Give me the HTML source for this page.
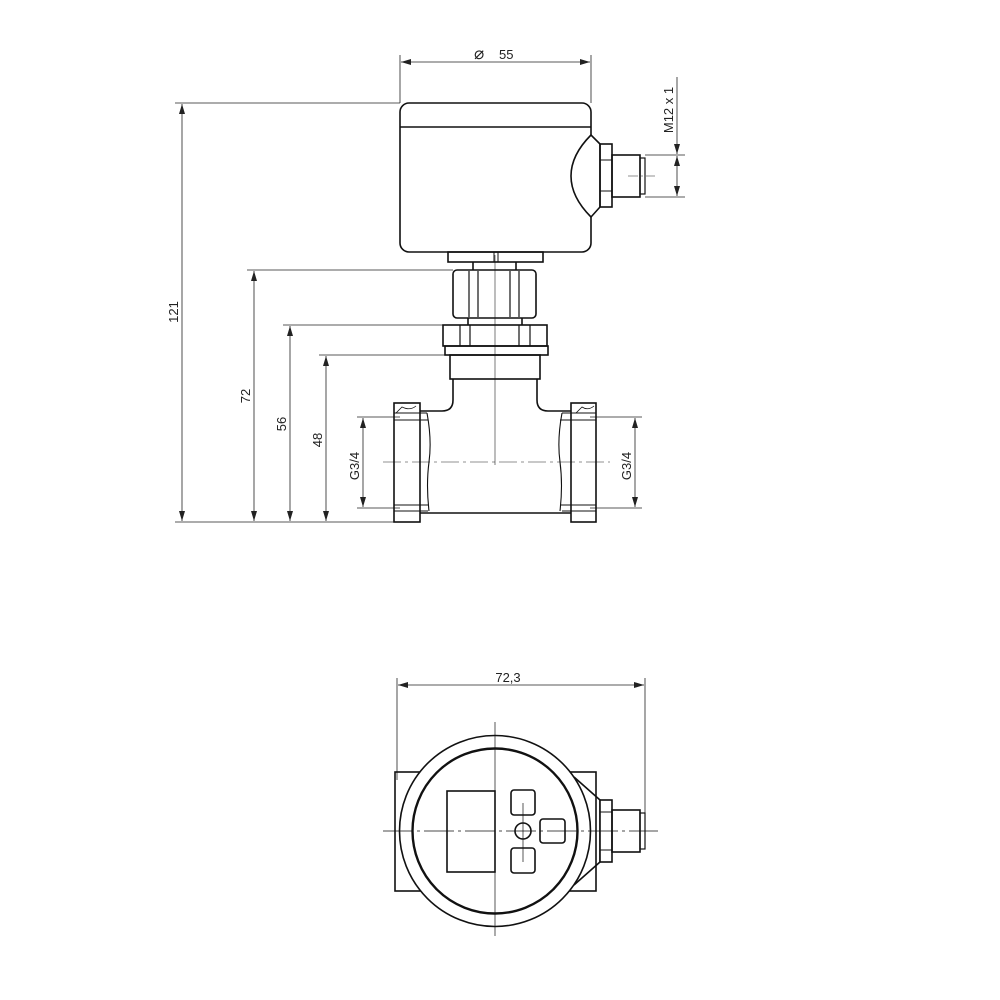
<!DOCTYPE html>
<html><head><style>body{margin:0;background:#fff}svg{display:block}text{font-family:"Liberation Sans",sans-serif;font-size:13px;fill:#222}</style></head><body>
<svg width="1000" height="1000" viewBox="0 0 1000 1000" xmlns="http://www.w3.org/2000/svg">
<defs><marker id="a" viewBox="0 0 10 6" refX="10" refY="3" markerWidth="10" markerHeight="6" orient="auto-start-reverse" markerUnits="userSpaceOnUse"><path d="M0,0L10,3L0,6z" fill="#222"/></marker></defs>
<g stroke="#222" fill="none" stroke-width="0.8">
<line x1="400" y1="55" x2="400" y2="103"/><line x1="591" y1="55" x2="591" y2="103"/>
<line x1="401" y1="62" x2="590" y2="62" marker-start="url(#a)" marker-end="url(#a)"/>
<line x1="175" y1="103" x2="400" y2="103"/><line x1="175" y1="522" x2="394" y2="522"/>
<line x1="182" y1="104" x2="182" y2="521" marker-start="url(#a)" marker-end="url(#a)"/>
<line x1="247" y1="270" x2="453" y2="270"/><line x1="254" y1="271" x2="254" y2="521" marker-start="url(#a)" marker-end="url(#a)"/>
<line x1="283" y1="325" x2="443" y2="325"/><line x1="290" y1="326" x2="290" y2="521" marker-start="url(#a)" marker-end="url(#a)"/>
<line x1="319" y1="355" x2="445" y2="355"/><line x1="326" y1="356" x2="326" y2="521" marker-start="url(#a)" marker-end="url(#a)"/>
<line x1="357" y1="417" x2="400" y2="417"/><line x1="357" y1="508" x2="400" y2="508"/>
<line x1="363" y1="418" x2="363" y2="507" marker-start="url(#a)" marker-end="url(#a)"/>
<line x1="590" y1="417" x2="642" y2="417"/><line x1="590" y1="508" x2="642" y2="508"/>
<line x1="635" y1="418" x2="635" y2="507" marker-start="url(#a)" marker-end="url(#a)"/>
<line x1="645" y1="155" x2="685" y2="155"/><line x1="645" y1="197" x2="685" y2="197"/>
<line x1="677" y1="77" x2="677" y2="154" marker-end="url(#a)"/><line x1="677" y1="156" x2="677" y2="196" marker-start="url(#a)" marker-end="url(#a)"/>
<line x1="495" y1="255" x2="495" y2="465" stroke-width="0.6"/>
<line x1="383" y1="462" x2="610" y2="462" stroke-dasharray="18,4,3,4" stroke-width="0.6"/>
<line x1="628" y1="176" x2="655" y2="176" stroke-dasharray="10,3,2,3" stroke-width="0.6"/>
</g>
<g stroke="#111" fill="none" stroke-width="1.6">
<rect x="400" y="103" width="191" height="149" rx="9"/>
<line x1="400" y1="127" x2="591" y2="127"/>
<path d="M591,135 Q571,155 571,176 Q571,197 591,217 L600,207 L600,144 Z" fill="#fff"/>
<rect x="600" y="144" width="12" height="63"/>
<line x1="600" y1="160" x2="612" y2="160" stroke-width="1"/><line x1="600" y1="191" x2="612" y2="191" stroke-width="1"/>
<rect x="612" y="155" width="28" height="42"/>
<rect x="640" y="158" width="5" height="36" stroke-width="1.2"/>
<rect x="448" y="252" width="95" height="10"/><line x1="494" y1="252" x2="494" y2="262" stroke-width="1"/><line x1="498" y1="252" x2="498" y2="262" stroke-width="1"/>
<line x1="473" y1="262" x2="473" y2="270"/><line x1="516" y1="262" x2="516" y2="270"/>
<rect x="453" y="270" width="83" height="48" rx="4"/>
<line x1="469" y1="271" x2="469" y2="317" stroke-width="1.2"/><line x1="478" y1="271" x2="478" y2="317" stroke-width="1.2"/>
<line x1="510" y1="271" x2="510" y2="317" stroke-width="1.2"/><line x1="519" y1="271" x2="519" y2="317" stroke-width="1.2"/>
<line x1="468" y1="318" x2="468" y2="325"/><line x1="522" y1="318" x2="522" y2="325"/>
<rect x="443" y="325" width="104" height="21"/>
<line x1="460" y1="325" x2="460" y2="346" stroke-width="1.2"/><line x1="470" y1="325" x2="470" y2="346" stroke-width="1.2"/>
<line x1="519" y1="325" x2="519" y2="346" stroke-width="1.2"/><line x1="530" y1="325" x2="530" y2="346" stroke-width="1.2"/>
<rect x="445" y="346" width="103" height="9"/>
<rect x="450" y="355" width="90" height="24"/>
<path d="M453,379 L453,400 Q453,411 442,411 L420,411"/>
<path d="M537,379 L537,400 Q537,411 548,411 L571,411"/>
<line x1="420" y1="513" x2="571" y2="513"/>
<rect x="394" y="403" width="26" height="119"/>
<rect x="571" y="403" width="25" height="119"/>
<g stroke-width="1.1">
<line x1="394" y1="413" x2="427" y2="413"/><line x1="394" y1="420" x2="428" y2="420"/>
<line x1="394" y1="505" x2="428" y2="505"/><line x1="394" y1="511" x2="428" y2="511"/>
<line x1="562" y1="413" x2="596" y2="413"/><line x1="560" y1="420" x2="596" y2="420"/>
<line x1="560" y1="505" x2="596" y2="505"/><line x1="562" y1="511" x2="596" y2="511"/>
<path d="M427,413 Q432,440 429,462 Q426,485 429,511"/>
<path d="M562,413 Q557,440 560,462 Q563,485 560,511"/>
<path d="M396,413 L402,407 Q410,411 416,406" stroke-width="0.8"/>
<path d="M576,413 L582,407 Q588,411 594,406" stroke-width="0.8"/>
</g>
</g>
<g stroke="#222" fill="none" stroke-width="0.8">
<line x1="397" y1="678" x2="397" y2="780"/><line x1="645" y1="678" x2="645" y2="815"/>
<line x1="398" y1="685" x2="644" y2="685" marker-start="url(#a)" marker-end="url(#a)"/>
</g>
<g stroke="#111" fill="none" stroke-width="1.6">
<rect x="395" y="772" width="201" height="119"/>
<circle cx="495" cy="831" r="95.5" fill="#fff"/>
<path d="M574,777 L600,800 L600,862 L574,885"/>
<circle cx="495" cy="831" r="82.5" stroke-width="2.4"/>
<rect x="600" y="800" width="12" height="62" fill="#fff"/>
<line x1="600" y1="812" x2="612" y2="812" stroke-width="1"/><line x1="600" y1="850" x2="612" y2="850" stroke-width="1"/>
<rect x="612" y="810" width="28" height="42"/>
<rect x="640" y="813" width="5" height="36" stroke-width="1.2"/>
<rect x="447" y="791" width="48" height="81"/>
<rect x="511" y="790" width="24" height="25" rx="3"/>
<rect x="540" y="819" width="25" height="24" rx="3"/>
<rect x="511" y="848" width="24" height="25" rx="3"/>
<circle cx="523" cy="831" r="8"/>
<line x1="383" y1="831" x2="658" y2="831" stroke-width="0.7" stroke-dasharray="30,4,3,4"/>
<line x1="495" y1="722" x2="495" y2="940" stroke-width="0.7" stroke-dasharray="100,6,2,6"/>
<line x1="523" y1="803" x2="523" y2="862" stroke-width="0.7"/>
</g>
<text x="474" y="59" style="font-size:17px">⌀</text><text x="499" y="59">55</text>
<text x="508" y="682" text-anchor="middle">72,3</text>
<text transform="translate(178,312) rotate(-90)" text-anchor="middle">121</text>
<text transform="translate(250,396) rotate(-90)" text-anchor="middle">72</text>
<text transform="translate(286,424) rotate(-90)" text-anchor="middle">56</text>
<text transform="translate(322,440) rotate(-90)" text-anchor="middle">48</text>
<text transform="translate(359,466) rotate(-90)" text-anchor="middle">G3/4</text>
<text transform="translate(631,466) rotate(-90)" text-anchor="middle">G3/4</text>
<text transform="translate(673,110) rotate(-90)" text-anchor="middle">M12 x 1</text>
</svg>
</body></html>
